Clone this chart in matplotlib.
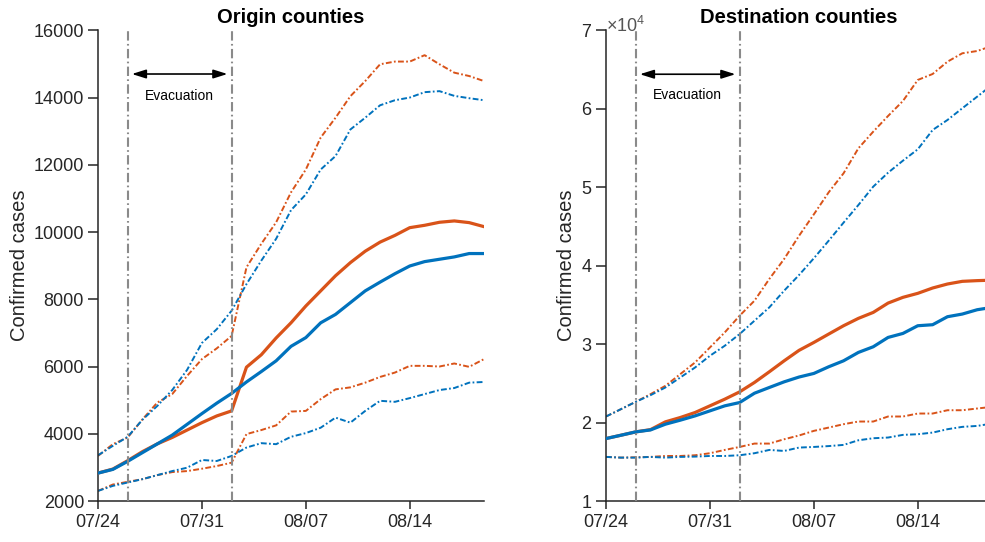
import matplotlib
matplotlib.use("Agg")
import matplotlib.pyplot as plt
import matplotlib.dates as mdates
import pandas as pd
from matplotlib.ticker import MultipleLocator, ScalarFormatter

plt.rcParams["font.family"] = ["Liberation Sans", "DejaVu Sans"]
plt.rcParams["mathtext.fontset"] = "custom"
plt.rcParams["mathtext.rm"] = "Liberation Sans"
plt.rcParams["mathtext.it"] = "Liberation Sans:italic"

# ---- data -------------------------------------------------------------
dates = pd.date_range("2020-07-24", "2020-08-19", freq="D")
evac_start = pd.Timestamp("2020-07-26")
evac_end = pd.Timestamp("2020-08-02")
tick_dates = pd.to_datetime(["2020-07-24", "2020-07-31", "2020-08-07", "2020-08-14"])

origin_blue_mid = [2830, 2940, 3180, 3440, 3700, 3960, 4280, 4600, 4910, 5200,
                   5540, 5850, 6170, 6600, 6860, 7300, 7550, 7900, 8250, 8510,
                   8760, 8990, 9120, 9190, 9260, 9360, 9360]
origin_orange_mid = [2830, 2950, 3200, 3470, 3700, 3890, 4110, 4330, 4530, 4680,
                     5980, 6350, 6850, 7300, 7800, 8250, 8700, 9090, 9430, 9700,
                     9900, 10130, 10200, 10290, 10330, 10280, 10160]
origin_blue_hi = [3360, 3640, 3910, 4420, 4830, 5300, 5900, 6700, 7110, 7660,
                  8450, 9150, 9800, 10650, 11120, 11860, 12260, 13050, 13400, 13770,
                  13920, 14000, 14160, 14190, 14050, 13980, 13920]
origin_orange_hi = [3340, 3690, 3890, 4430, 4930, 5180, 5720, 6220, 6540, 6910,
                    8950, 9650, 10290, 11180, 11860, 12810, 13400, 14040, 14490, 14990,
                    15070, 15070, 15260, 14990, 14740, 14640, 14490]
origin_blue_lo = [2300, 2450, 2550, 2650, 2770, 2890, 2990, 3220, 3190, 3340,
                  3590, 3720, 3690, 3910, 4020, 4180, 4480, 4330, 4680, 4980,
                  4950, 5060, 5180, 5300, 5360, 5520, 5540]
origin_orange_lo = [2300, 2490, 2570, 2650, 2770, 2860, 2890, 2960, 3040, 3140,
                    3990, 4110, 4250, 4660, 4680, 5030, 5320, 5380, 5520, 5690,
                    5820, 6020, 6020, 6000, 6090, 5990, 6220]

dest_blue_mid = [17960, 18380, 18810, 19060, 19790, 20300, 20850, 21490, 22130, 22550,
                 23740, 24470, 25190, 25800, 26260, 27110, 27870, 28940, 29660, 30850,
                 31360, 32340, 32470, 33490, 33830, 34380, 34680]
dest_orange_mid = [17960, 18380, 18810, 19100, 20090, 20640, 21280, 22130, 22980, 23910,
                   25110, 26470, 27870, 29200, 30210, 31280, 32340, 33280, 34040, 35230,
                   35960, 36470, 37150, 37660, 38000, 38090, 38150]
dest_blue_hi = [20770, 21700, 22640, 23490, 24470, 25740, 27020, 28510, 29790, 31280,
                32980, 34680, 36810, 38800, 40940, 43180, 45480, 47730, 50070, 51850,
                53380, 54830, 57290, 58570, 60060, 61540, 63030]
dest_orange_hi = [20770, 21700, 22640, 23620, 24680, 26170, 27660, 29570, 31490, 33620,
                  35530, 38300, 40850, 43800, 46540, 49350, 51770, 54960, 57080, 59080,
                  60990, 63670, 64430, 66000, 67070, 67360, 68000]
dest_blue_lo = [15620, 15530, 15530, 15620, 15530, 15620, 15660, 15740, 15740, 15830,
                16090, 16510, 16380, 16810, 16890, 17000, 17150, 17740, 18000, 18090,
                18430, 18510, 18720, 19150, 19450, 19570, 19870]
dest_orange_lo = [15620, 15530, 15570, 15620, 15740, 15740, 15830, 16090, 16510, 16890,
                  17320, 17320, 17870, 18350, 18940, 19360, 19790, 20130, 20130, 20770,
                  20770, 21150, 21150, 21570, 21570, 21790, 22000]

# ---- style --------------------------------------------------------------
BLUE = "#0072BD"
ORANGE = "#D95319"
AXIS_COLOR = "#262626"
GRAY = "#8a8a8a"
DASHDOT = (0, (3.0, 1.2, 0.9, 1.2))
VDASH = (0, (4.5, 1.6, 0.8, 1.6))

fig = plt.figure(figsize=(9.85, 5.42), dpi=100)
W, H = 985.0, 542.0
ax_left = fig.add_axes([98 / W, 1 - 501 / H, 386 / W, 470.7 / H])
ax_right = fig.add_axes([606 / W, 1 - 501 / H, 386 / W, 470.7 / H])


def draw_panel(ax, title, mid_o, mid_b, hi_o, hi_b, lo_o, lo_b, ylim, ystep, arrow_y, text_y):
    ax.plot(dates, hi_o, color=ORANGE, lw=1.4, ls=DASHDOT, zorder=2)
    ax.plot(dates, lo_o, color=ORANGE, lw=1.4, ls=DASHDOT, zorder=2)
    ax.plot(dates, hi_b, color=BLUE, lw=1.4, ls=DASHDOT, zorder=2)
    ax.plot(dates, lo_b, color=BLUE, lw=1.4, ls=DASHDOT, zorder=2)
    ax.plot(dates, mid_o, color=ORANGE, lw=2.3, zorder=3, solid_joinstyle="round")
    ax.plot(dates, mid_b, color=BLUE, lw=2.3, zorder=3, solid_joinstyle="round")

    for d in (evac_start, evac_end):
        ax.axvline(d, color=GRAY, lw=1.5, ls=VDASH, zorder=5)

    ax.annotate("", xy=(evac_end, arrow_y), xytext=(evac_start, arrow_y),
                arrowprops=dict(arrowstyle="<|-|>,head_length=0.7,head_width=0.22",
                                color="black", lw=1.2, shrinkA=3, shrinkB=3,
                                mutation_scale=12), zorder=6)
    mid_date = evac_start + (evac_end - evac_start) / 2
    ax.text(mid_date, text_y, "Evacuation", ha="center", va="center",
            fontsize=10, color="black")

    ax.set_xlim(dates[0], dates[-1])
    ax.set_ylim(*ylim)
    ax.yaxis.set_major_locator(MultipleLocator(ystep))
    ax.set_xticks(tick_dates)
    ax.xaxis.set_major_formatter(mdates.DateFormatter("%m/%d"))

    for side in ("top", "right"):
        ax.spines[side].set_visible(False)
    for side in ("left", "bottom"):
        ax.spines[side].set_color(AXIS_COLOR)
        ax.spines[side].set_linewidth(1.1)
    ax.tick_params(direction="out", width=1.1, colors=AXIS_COLOR, labelsize=13)
    ax.tick_params(axis="y", length=7, pad=3)
    ax.tick_params(axis="x", length=5.5, pad=4)
    ax.set_ylabel("Confirmed cases", fontsize=14.5, color=AXIS_COLOR, labelpad=3)
    ax.set_title(title, fontsize=14.5, fontweight="bold", pad=5)


draw_panel(ax_left, "Origin counties",
           origin_orange_mid, origin_blue_mid,
           origin_orange_hi, origin_blue_hi,
           origin_orange_lo, origin_blue_lo,
           (2000, 16000), 2000, 14700, 14050)

draw_panel(ax_right, "Destination counties",
           dest_orange_mid, dest_blue_mid,
           dest_orange_hi, dest_blue_hi,
           dest_orange_lo, dest_blue_lo,
           (10000, 70000), 10000, 64400, 61700)

fmt = ScalarFormatter(useMathText=True)
fmt.set_powerlimits((4, 4))
ax_right.yaxis.set_major_formatter(fmt)
off = ax_right.yaxis.get_offset_text()
off.set_fontsize(13)
off.set_color("#555555")
off.set_verticalalignment("center")
off.set_y(1.02)

fig.savefig("out.png", dpi=100)
